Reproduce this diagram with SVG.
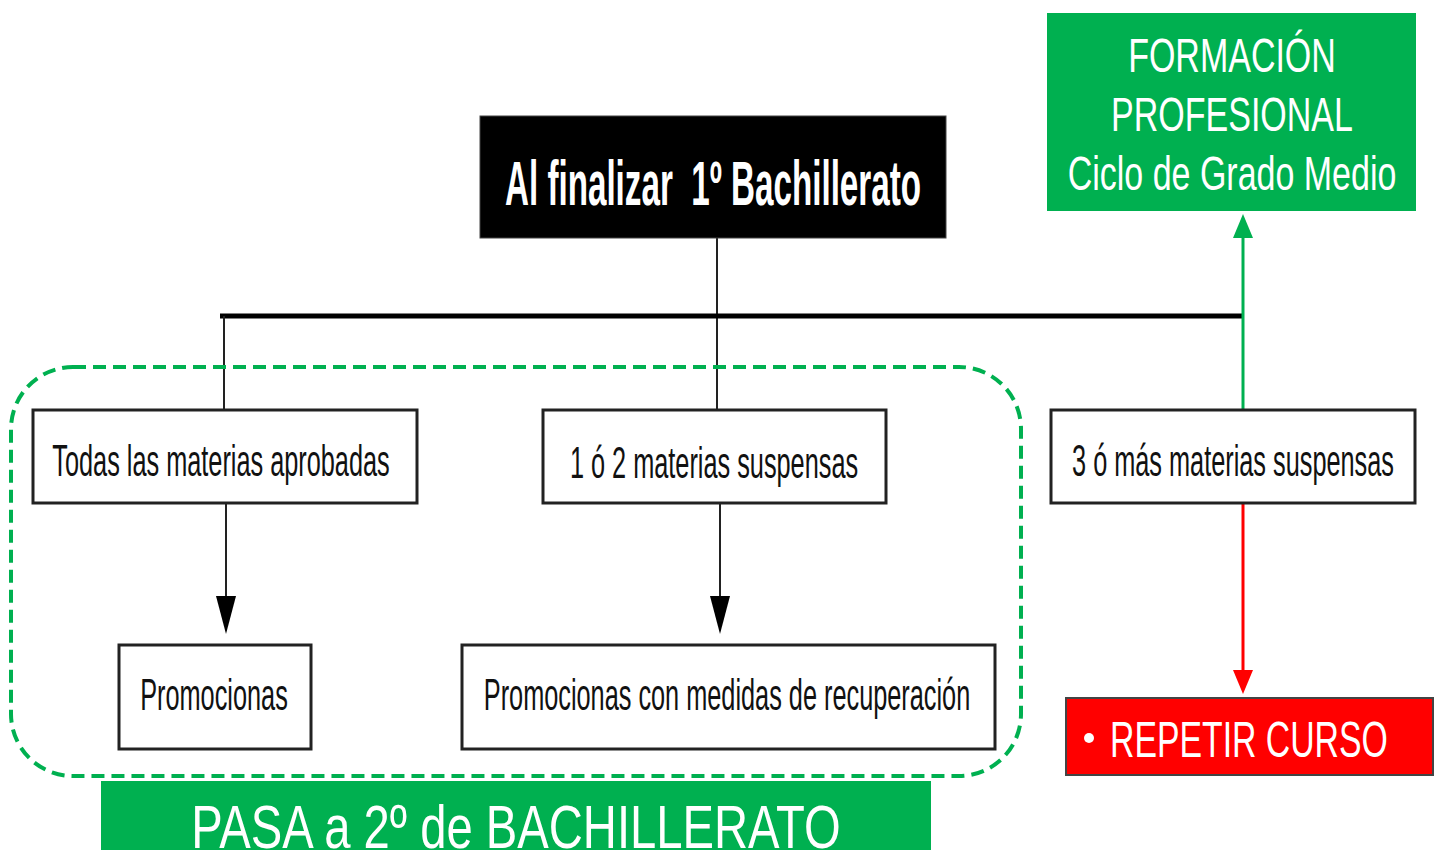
<svg xmlns="http://www.w3.org/2000/svg" width="1441" height="850" viewBox="0 0 1441 850">
<style>
.box{fill:#fff;stroke:#222;stroke-width:3}
.t{font-family:"Liberation Sans",Arial,sans-serif;fill:#111;font-size:25.3px;text-anchor:middle}
.w{font-family:"Liberation Sans",Arial,sans-serif;fill:#fff}
.fp{font-size:34px;text-anchor:middle}
.ln{stroke:#222;stroke-width:2;fill:none}
</style>
<rect width="1441" height="850" fill="#fff"/>
<g id="connectors">
<line x1="717" y1="238" x2="717" y2="410" class="ln"/>
<line x1="220" y1="316" x2="1243" y2="316" stroke="#000" stroke-width="5"/>
<line x1="224" y1="316" x2="224" y2="410" class="ln"/>
<line x1="226" y1="503" x2="226" y2="598" class="ln"/>
<path d="M216,596 L236,596 L226,634 z" fill="#000"/>
<line x1="720" y1="503" x2="720" y2="598" class="ln"/>
<path d="M710,596 L730,596 L720,634 z" fill="#000"/>
<line x1="1243" y1="410" x2="1243" y2="236" stroke="#00B050" stroke-width="3"/>
<path d="M1233,238 L1253,238 L1243,214 z" fill="#00B050"/>
<line x1="1243" y1="503" x2="1243" y2="672" stroke="#FF0000" stroke-width="3"/>
<path d="M1233,670 L1253,670 L1243,694 z" fill="#FF0000"/>
</g>
<g id="group-pasa">
<rect x="11" y="367" width="1010" height="409" rx="62" fill="none" stroke="#00B050" stroke-width="4" stroke-dasharray="13,7"/>
</g>
<g id="node-inicio">
<rect x="480" y="116" width="466" height="122" fill="#000" stroke="#444" stroke-width="1"/>
<text class="w" xml:space="preserve" transform="translate(713,205) scale(1,1.87)" font-size="33.2" font-weight="bold" text-anchor="middle">Al finalizar  1º Bachillerato</text>
</g>
<g id="node-fp">
<rect x="1047" y="13" width="369" height="198" fill="#00B050"/>
<text class="w fp" transform="translate(1232,72) scale(1,1.41)">FORMACIÓN</text>
<text class="w fp" transform="translate(1232,131) scale(1,1.41)">PROFESIONAL</text>
<text class="w fp" transform="translate(1232,190) scale(1,1.41)">Ciclo de Grado Medio</text>
</g>
<g id="node-todas">
<rect class="box" x="33" y="410" width="384" height="93"/>
<text class="t" transform="translate(221,476) scale(1,1.74)">Todas las materias aprobadas</text>
</g>
<g id="node-1o2">
<rect class="box" x="543" y="410" width="343" height="93"/>
<text class="t" transform="translate(714,478) scale(1,1.74)">1 ó 2 materias suspensas</text>
</g>
<g id="node-3omas">
<rect class="box" x="1051" y="410" width="364" height="93"/>
<text class="t" transform="translate(1233,476) scale(1,1.74)">3 ó más materias suspensas</text>
</g>
<g id="node-promocionas">
<rect class="box" x="119" y="645" width="192" height="104"/>
<text class="t" transform="translate(214,710) scale(1,1.74)">Promocionas</text>
</g>
<g id="node-promocionas-medidas">
<rect class="box" x="462" y="645" width="533" height="104"/>
<text class="t" transform="translate(727,710) scale(1,1.74)">Promocionas con medidas de recuperación</text>
</g>
<g id="node-repetir">
<rect x="1066" y="698" width="367" height="77" fill="#FF0000" stroke="#444" stroke-width="2"/>
<circle cx="1089" cy="738" r="5" fill="#fff"/>
<text class="w" transform="translate(1110,757) scale(1,1.48)" font-size="33.8">REPETIR CURSO</text>
</g>
<g id="node-pasa">
<rect x="101" y="781" width="830" height="69" fill="#00B050"/>
<text class="w" transform="translate(516,848) scale(1,1.31)" font-size="47.2" text-anchor="middle">PASA a 2º de BACHILLERATO</text>
</g>
</svg>
